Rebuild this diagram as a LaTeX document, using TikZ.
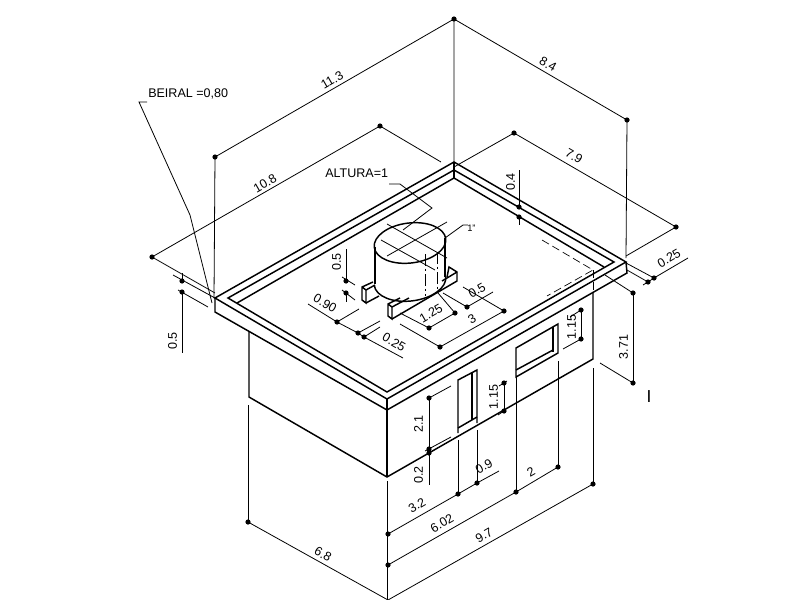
\documentclass[tikz,border=0pt]{standalone}
\usepackage{fontspec}
\setmainfont{Liberation Sans}
\tikzset{>=stealth,
  wall/.style={line width=1.1pt},
  dimline/.style={line width=.6pt},
  hidden/.style={line width=.5pt,dash pattern=on 6pt off 3pt},
  axisline/.style={line width=.5pt,dash pattern=on 9pt off 2pt on 2pt off 2pt},
  lbl/.style={font=\fontsize{9.4pt}{10pt}\selectfont,inner sep=0pt},
  up/.style={lbl,shift={(-1,-1.8)},rotate=30},
  dn/.style={lbl,shift={(1,-1.8)},rotate=-30},
  vert/.style={lbl,shift={(-1.5,0)},rotate=90}}
\begin{document}
\begin{tikzpicture}[x=.75pt,y=-.75pt]
\useasboundingbox (0,0) rectangle (800,600);
% roof
\coordinate (T1) at (454,162);
\coordinate (L1) at (215,298);
\coordinate (B1) at (387,399);
\coordinate (R1) at (626,262);
\coordinate (T2) at (454,170);
\coordinate (L2) at (228,298);
\coordinate (B2) at (387,392);
\coordinate (R2) at (614,262);
\coordinate (T3) at (454,178);
\coordinate (L3) at (237,303);
\coordinate (R3) at (604,267);
\coordinate (L4) at (215,312);
\coordinate (B4) at (387,410);
\coordinate (R4) at (627,273);
\draw[wall] (T1) -- (L1) -- (B1) -- (R1) -- cycle;
\draw[wall] (T2) -- (L2) -- (B2) -- (R2) -- cycle;
\draw[wall] (L3) -- (T3) -- (R3);
\draw[wall] (T1) -- (T3);
\draw[wall] (L1) -- (L4) -- (B4) -- (R4) -- (R1);
\draw[wall] (B1) -- (B4);
% walls
\coordinate (W1) at (249,332);
\coordinate (W2) at (249,397);
\coordinate (W3) at (387,477);
\coordinate (W4) at (593,359);
\coordinate (W5) at (593,292);
\draw[wall] (W1) -- (W2) -- (W3) -- (W4) -- (W5);
\draw[wall] (B4) -- (W3);
% door
\draw[wall] (458,433) -- (458,380) -- (477,370) -- (477,423);
\draw[wall] (472,373) -- (472,420);
\draw[wall] (458,428) -- (477,417);
% window
\draw[wall] (516,377) -- (516,348) -- (558,324) -- (558,353) -- cycle;
\draw[wall] (553,327) -- (553,352);
\draw[wall] (516,370) -- (553,350);
% hidden part of the wall
\draw[hidden] (542,240) -- (593,270) -- (547,296);
\draw[hidden] (593,270) -- (593,292);
% feet
\draw[wall] (373,282) -- (362,287) -- (362,300) -- (366,303) -- (366,290) -- (362,287);
\draw[wall] (366,290) -- (375,285);
\draw[wall] (366,303) -- (379,296);
\draw[wall] (400,298) -- (388,304) -- (388,316) -- (392,319) -- (392,307) -- (388,304);
\draw[wall] (392,319) -- (457,281) -- (457,272) -- (449,267) -- (447,277);
\draw[wall] (392,307) -- (409,298);
\draw[wall] (457,272) -- (442,281);
% tank
\begin{scope}[shift={(410,243)},rotate=7]
\draw[wall] (0,0) ellipse[x radius=36,y radius=20];
\end{scope}
\begin{scope}[shift={(410,281)},rotate=7]
\draw[wall] (-36,0) arc[start angle=180,end angle=0,x radius=36,y radius=20];
\end{scope}
\draw[wall] (375,247) -- (375,284);
\draw[wall] (445,238) -- (445,277);
\draw[axisline] (425,254) -- (425,296);
\draw[axisline] (437,252) -- (437,289);
\draw[dimline] (387,224) -- (447,258);
\draw[dimline] (381,240) -- (435,270);
\draw[dimline] (387,256) -- (447,222);
% notes
\node[lbl,anchor=west] (beiral) at (148,94) {BEIRAL =0,80};
\draw[dimline] (147,102) -- (139,102) -- (190,215) -- (212,303);
\node[lbl,anchor=west] (altura) at (325,173) {ALTURA=1};
\draw[dimline] (389,184) -- (400,184) -- (432,208) -- (403,230);
\draw[dimline] (445,238) -- (463,225) -- (468,225);
\node[lbl,anchor=west] (diam) at (467,228) {\fontsize{7pt}{8pt}\selectfont 1"};
\node[inner sep=0pt,font=\fontsize{13pt}{14pt}\selectfont] (mark) at (649,397) {I};
% dimension points
\coordinate (P) at (454,19);
\coordinate (A1) at (215,157);
\coordinate (A2) at (627,120);
\coordinate (C1) at (380,126);
\coordinate (C2) at (152,257);
\coordinate (D1) at (514,133);
\coordinate (D2) at (676,227);
\draw[dimline] (T1) -- (P) -- (A1) -- (214,298);
\draw[dimline] (P) -- (A2) -- (626,258);
\draw[dimline] (441,162) -- (C1) -- (C2) -- (215,293);
\draw[dimline] (454,167) -- (D1) -- (D2) -- (626,256);
\node[up] (n113) at (333,82) {11.3};
\node[dn] (n84) at (547,66) {8.4};
\node[up] (n108) at (266,185) {10.8};
\node[dn] (n79) at (573,158) {7.9};
% left side
\coordinate (E1) at (182,281);
\coordinate (E2) at (182,292);
\draw[dimline] (182,273) -- (E1);
\draw[dimline] (E2) -- (182,353);
\draw[dimline] (173,275) -- (215,298);
\draw[dimline] (178,290) -- (208,307);
\node[vert] (n05a) at (174,341) {0.5};
% tank dimensions
\coordinate (F1) at (346,281);
\coordinate (F2) at (346,293);
\draw[dimline] (346,249) -- (F1);
\draw[dimline] (F2) -- (346,302);
\draw[dimline] (342,277) -- (355,285);
\draw[dimline] (342,290) -- (355,300);
\node[vert] (n05b) at (338,262) {0.5};
\coordinate (G1) at (337,322);
\coordinate (G2) at (358,333);
\coordinate (G3) at (364,337);
\draw[dimline] (308,304) -- (G1) -- (G2) -- (G3) -- (403,358);
\draw[dimline] (G1) -- (359,309);
\draw[dimline] (G2) -- (380,321);
\draw[dimline] (G3) -- (380,327);
\node[dn] (n090) at (324,305) {0.90};
\node[dn] (n025a) at (393,344) {0.25};
\coordinate (H1) at (429,328);
\coordinate (H2) at (455,313);
\coordinate (H3) at (440,347);
\coordinate (H4) at (504,311);
\coordinate (H5) at (467,307);
\draw[dimline] (H1) -- (H2);
\draw[dimline] (400,313) -- (H1);
\draw[dimline] (438,293) -- (H2);
\draw[dimline] (H3) -- (H4);
\draw[dimline] (400,324) -- (H3);
\draw[dimline] (463,287) -- (H4);
\draw[dimline] (H5) -- (493,292);
\draw[dimline] (443,293) -- (H5);
\node[up] (n125) at (432,315) {1.25};
\node[up] (n3) at (473,321) {3};
\node[up] (n05c) at (478,292) {0.5};
% right side
\node[vert] (n04) at (512,182) {0.4};
\coordinate (J1) at (519,207);
\coordinate (J2) at (519,217);
\draw[dimline] (519,170) -- (J1);
\draw[dimline] (J2) -- (519,225);
\coordinate (K1) at (648,282);
\coordinate (K2) at (654,278);
\draw[dimline] (643,285) -- (K1) -- (K2) -- (688,258);
\draw[dimline] (626,263) -- (K2);
\draw[dimline] (627,270) -- (K1);
\node[up] (n025b) at (670,260) {0.25};
\coordinate (M1) at (633,293);
\coordinate (M2) at (633,383);
\draw[dimline] (M1) -- (M2);
\draw[dimline] (605,275) -- (M1);
\draw[dimline] (600,363) -- (M2);
\node[vert] (n371) at (625,347) {3.71};
\coordinate (Q1) at (581,310);
\coordinate (Q2) at (581,339);
\draw[dimline] (Q1) -- (Q2);
\draw[dimline] (570,317) -- (Q1);
\draw[dimline] (563,349) -- (Q2);
\node[vert] (n115a) at (573,327) {1.15};
\coordinate (S1) at (504,383);
\coordinate (S2) at (504,411);
\draw[dimline] (S1) -- (S2);
\draw[dimline] (499,386) -- (507,381);
\draw[dimline] (498,415) -- (S2);
\node[vert] (n115b) at (495,397) {1.15};
\coordinate (U1) at (429,398);
\coordinate (U2) at (429,449);
\coordinate (U3) at (429,453);
\draw[dimline] (U1) -- (U2);
\draw[dimline] (U3) -- (429,485);
\draw[dimline] (U1) -- (451,386);
\draw[dimline] (425,451) -- (451,437);
\node[vert] (n21) at (420,424) {2.1};
\node[vert] (n02) at (420,475) {0.2};
% base dimensions
\coordinate (V1) at (388,534);
\coordinate (V2) at (458,494);
\coordinate (V3) at (477,483);
\coordinate (X1) at (388,565);
\coordinate (X2) at (516,492);
\coordinate (X3) at (558,467);
\coordinate (Y1) at (388,600);
\coordinate (Y2) at (593,484);
\coordinate (Z1) at (248,522);
\draw[dimline] (458,440) -- (V2);
\draw[dimline] (477,430) -- (V3);
\draw[dimline] (516,377) -- (X2);
\draw[dimline] (558,361) -- (X3);
\draw[dimline] (593,368) -- (Y2);
\draw[dimline] (248,405) -- (Z1);
\draw[dimline] (387,481) -- (387,600);
\draw[dimline] (V1) -- (V2) -- (V3) -- (499,471);
\draw[dimline] (X1) -- (X2) -- (X3);
\draw[dimline] (Y1) -- (Y2);
\draw[dimline] (Z1) -- (Y1);
\node[up] (n32) at (418,507) {3.2};
\node[up] (n09) at (485,468) {0.9};
\node[up] (n602) at (443,525) {6.02};
\node[up] (n2) at (532,474) {2};
\node[up] (n97) at (485,537) {9.7};
\node[dn] (n68) at (322,556) {6.8};
% dots
\foreach \p in {P,A1,A2,C1,C2,D1,D2,E1,E2,F1,F2,G1,G2,G3,H1,H2,H3,H4,H5,J1,J2,K1,K2,M1,M2,Q1,Q2,S1,S2,U1,U2,U3,V1,V2,V3,X1,X2,X3,Y2,Z1}
  \fill (\p) circle[radius=2.6];
\end{tikzpicture}
\end{document}
